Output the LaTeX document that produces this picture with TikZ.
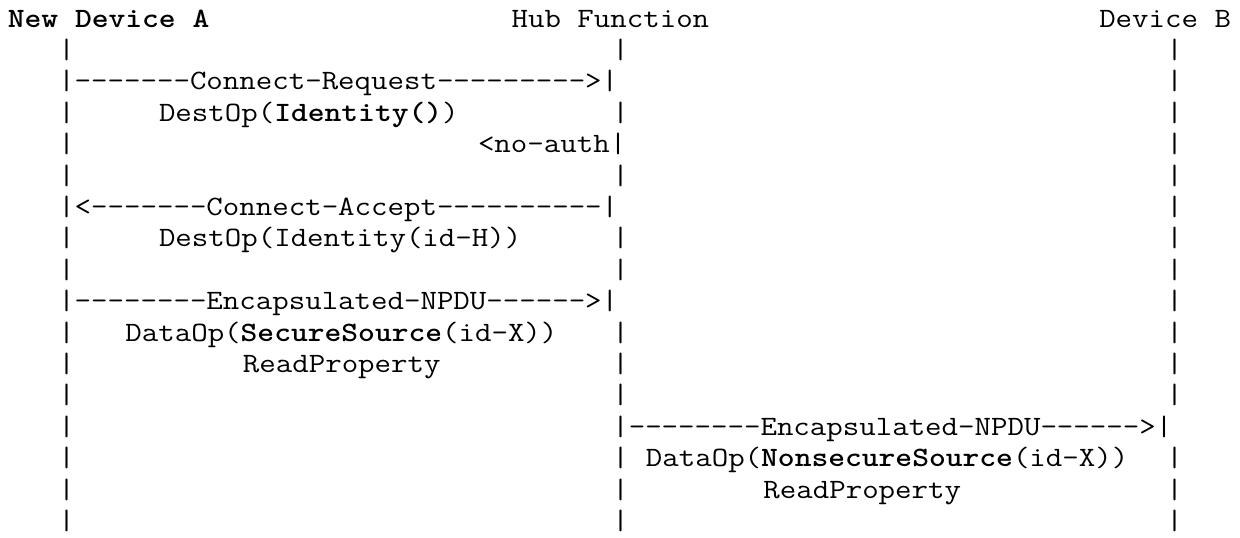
\documentclass[tikz,border=0pt]{standalone}
\usepackage{graphicx}
\tikzset{txt/.style={anchor=base west, inner sep=0pt, outer sep=0pt, text=black,
  font=\ttfamily\fontsize{21}{24}\selectfont}}
\newcommand\putseg[4]{\node[txt] (#1) at ({7.9+16.79*#2},{27+31.4*#3}) {\scalebox{1.142}[1]{#4}};}
\newcommand\threebars[2]{%
  \putseg{#1a}{3}{#2}{|}\putseg{#1b}{36}{#2}{|}\putseg{#1c}{69}{#2}{|}}
\begin{document}
\begin{tikzpicture}[x=0.75pt,y=-0.75pt]
\useasboundingbox (0,0) rectangle (1240,537);
% row 0: headers
\putseg{devA}{0}{0}{\textbf{New Device A}}
\putseg{hub}{30}{0}{Hub Function}
\putseg{devB}{65}{0}{Device B}
% row 1
\threebars{r1}{1}
% row 2
\putseg{r2a}{3}{2}{|-------Connect-Request--------->|}
\putseg{r2c}{69}{2}{|}
% row 3
\putseg{r3a}{3}{3}{|}
\putseg{r3t}{9}{3}{DestOp(\textbf{Identity()})}
\putseg{r3b}{36}{3}{|}
\putseg{r3c}{69}{3}{|}
% row 4
\putseg{r4a}{3}{4}{|}
\putseg{r4t}{28}{4}{<no-auth|}
\putseg{r4c}{69}{4}{|}
% row 5
\threebars{r5}{5}
% row 6
\putseg{r6a}{3}{6}{|<-------Connect-Accept----------|}
\putseg{r6c}{69}{6}{|}
% row 7
\putseg{r7a}{3}{7}{|}
\putseg{r7t}{9}{7}{DestOp(Identity(id-H))}
\putseg{r7b}{36}{7}{|}
\putseg{r7c}{69}{7}{|}
% row 8
\threebars{r8}{8}
% row 9
\putseg{r9a}{3}{9}{|--------Encapsulated-NPDU------>|}
\putseg{r9c}{69}{9}{|}
% row 10
\putseg{r10a}{3}{10}{|}
\putseg{r10t}{7}{10}{DataOp(\textbf{SecureSource}(id-X))}
\putseg{r10b}{36}{10}{|}
\putseg{r10c}{69}{10}{|}
% row 11
\putseg{r11a}{3}{11}{|}
\putseg{r11t}{14}{11}{ReadProperty}
\putseg{r11b}{36}{11}{|}
\putseg{r11c}{69}{11}{|}
% row 12
\threebars{r12}{12}
% row 13
\putseg{r13a}{3}{13}{|}
\putseg{r13b}{36}{13}{|--------Encapsulated-NPDU------>|}
% row 14
\putseg{r14a}{3}{14}{|}
\putseg{r14b}{36}{14}{|}
\putseg{r14t}{38}{14}{DataOp(\textbf{NonsecureSource}(id-X))}
\putseg{r14c}{69}{14}{|}
% row 15
\putseg{r15a}{3}{15}{|}
\putseg{r15b}{36}{15}{|}
\putseg{r15t}{45}{15}{ReadProperty}
\putseg{r15c}{69}{15}{|}
% row 16
\threebars{r16}{16}
\end{tikzpicture}
\end{document}
